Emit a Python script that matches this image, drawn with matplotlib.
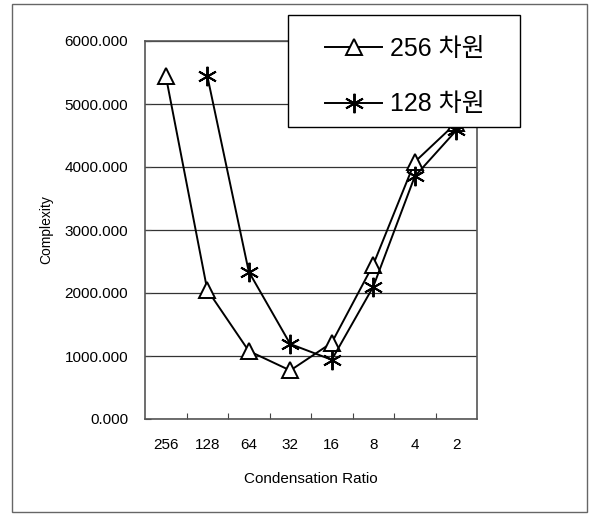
import matplotlib
matplotlib.use("Agg")
import matplotlib.pyplot as plt
from matplotlib.patches import Rectangle
import numpy as np

categories = ["256", "128", "64", "32", "16", "8", "4", "2"]
dim256 = [5450, 2050, 1080, 770, 1210, 2450, 4080, 4700]
dim128 = [None, 5450, 2340, 1190, 940, 2100, 3850, 4580]
series_labels = ["256 차원", "128 차원"]
yticks = [0, 1000, 2000, 3000, 4000, 5000, 6000]

plt.rcParams['font.family'] = ['Liberation Sans', 'Noto Sans CJK KR', 'DejaVu Sans']

fig = plt.figure(figsize=(5.97, 5.16), dpi=100)
ax = fig.add_axes([145/597, 1-419/516, (477-145)/597, (419-41)/516])

x = np.arange(len(categories))
x128 = [xi for xi, v in zip(x, dim128) if v is not None]
v128 = [v for v in dim128 if v is not None]

ax.plot(x, dim256, color='black', lw=1.4, marker='^', ms=11, mfc='white',
        mec='black', mew=1.4, label=series_labels[0], zorder=3)
ax.plot(x128, v128, color='black', lw=1.4, marker=(6, 2, 0), ms=14,
        mec='black', mew=1.4, label=series_labels[1], zorder=3)

ax.set_xlim(-0.5, len(categories) - 0.5)
ax.set_ylim(0, 6000)
ax.set_yticks(yticks)
ax.set_yticklabels([f"{v:.3f}" for v in yticks], fontsize=11)
ax.set_xticks(np.arange(0.5, len(categories) - 0.5), minor=False)
ax.set_xticklabels([])
ax.set_xticks(x, minor=True)
ax.set_xticklabels(categories, minor=True, fontsize=11)
ax.tick_params(axis='x', which='minor', length=0, pad=14)
ax.tick_params(axis='x', which='major', direction='in', length=4, color='#444')
ax.tick_params(axis='y', direction='in', length=4, color='#444', pad=12)
ax.yaxis.grid(True, color='#333', lw=0.9)
ax.set_axisbelow(True)
for s in ax.spines.values():
    s.set_color('#555')
    s.set_linewidth(1.2)

ax.set_ylabel("Complexity", fontsize=10, labelpad=8)
ax.set_xlabel("Condensation Ratio", fontsize=11, labelpad=14)

# legend box (drawn above the axes)
fig.patches.append(Rectangle((288/597, 1-127/516), (520-288)/597, (127-15)/516,
                             transform=fig.transFigure, facecolor='white',
                             edgecolor='black', lw=1.0, zorder=2))
leg = fig.legend(loc='upper left', bbox_to_anchor=(325/597, 1-37/516),
                 fontsize=18, frameon=False, handlelength=2.3,
                 handletextpad=0.3, labelspacing=1.25, borderpad=0,
                 borderaxespad=0)
leg.set_zorder(5)

fig.patches.append(Rectangle((12/597, 4/516), (587-12)/597, (512-4)/516,
                             transform=fig.transFigure, fill=False,
                             edgecolor='#666', lw=1.0))

fig.savefig("out.png", dpi=100)
